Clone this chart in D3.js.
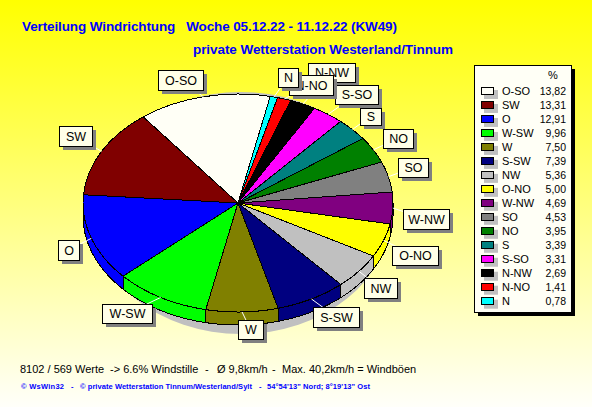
<!DOCTYPE html>
<html><head><meta charset="utf-8">
<script src="https://cdn.jsdelivr.net/npm/d3@7/dist/d3.min.js"></script>
<style>html,body{margin:0;padding:0;background:#fff}svg{display:block}text{font-family:"Liberation Sans",Arial,sans-serif}</style>
</head><body><svg id="c" width="592" height="407"></svg>
<script>
const categories=["O-SO","SW","O","W-SW","W","S-SW","NW","O-NO","W-NW","SO","NO","S","S-SO","N-NW","N-NO","N"];
const shares=[13.82,13.31,12.91,9.96,7.50,7.39,5.36,5.00,4.69,4.53,3.95,3.39,3.31,2.69,1.41,0.78];
const shareLabels=["13,82","13,31","12,91","9,96","7,50","7,39","5,36","5,00","4,69","4,53","3,95","3,39","3,31","2,69","1,41","0,78"];
const colors=["#fffff6","#800000","#0000ff","#00ff00","#808000","#000080","#c0c0c0","#ffff00","#800080","#808080","#008000","#008080","#ff00ff","#000000","#ff0000","#00ffff"];
// label boxes: [x0,y0,x1,y1] per category
const labelBoxes=[[158,70,203,90],[59,126,92,146],[58,240,79,260],[102,304,152,323],[238,320,263,339],[313,307,359,327],[364,278,397,298],[392,246,438,265],[403,209,449,229],[398,158,428,177],[383,129,413,148],[360,108,381,125],[335,85,378,104],[308,63,355,82],[289,75,333,95],[278,68,298,87]];
const labelOrder=[0,1,2,3,4,5,6,7,8,9,10,11,13,12,14,15];
const statusParts=[["8102 / 569 Werte",20],["-> 6.6% Windstille",110],["-",205],["Ø 9,8km/h",217],["-",272],["Max. 40,2km/h = Windböen",282]];
const creditParts=[["© WsWin32",21,43],["-",71,2],["© private Wetterstation Tinnum/Westerland/Sylt",80,172],["-",259,2],["54°54'13\" Nord; 8°19'13\" Ost",267,103]];

const svg=d3.select("#c");
const defs=svg.append("defs");
const g=defs.append("linearGradient").attr("id","bg").attr("x1",0).attr("y1",0).attr("x2",0).attr("y2",1);
g.append("stop").attr("offset",0).attr("stop-color","#ffff00");
g.append("stop").attr("offset",1).attr("stop-color","#fffffa");
svg.append("rect").attr("width",592).attr("height",407).attr("fill","url(#bg)");

svg.append("text").attr("x",22).attr("y",31).attr("fill","#0000ff").attr("font-weight","bold").attr("font-size",13.5).attr("xml:space","preserve").attr("textLength",375).text("Verteilung Windrichtung   Woche 05.12.22 - 11.12.22 (KW49)");
svg.append("text").attr("x",193).attr("y",54).attr("fill","#0000ff").attr("font-weight","bold").attr("font-size",13.5).attr("textLength",260).text("private Wetterstation Westerland/Tinnum");

const cx=238,cy=203,rx=155,ry=109,depth=13,startDeg=12;
const rad=d=>d*Math.PI/180;
svg.append("ellipse").attr("cx",241).attr("cy",213).attr("rx",150).attr("ry",121).attr("fill","#c0c0c0");

const data=categories.map((c,i)=>({c,v:shares[i],color:colors[i],i}));
const pie=d3.pie().value(d=>d.v).sort((a,b)=>a.v-b.v).startAngle(rad(startDeg)).endAngle(rad(startDeg)+2*Math.PI);
const arcs=pie(data);
const arcGen=d3.arc().innerRadius(0).outerRadius(rx);
const px=t=>cx+rx*Math.sin(t), py=t=>cy-ry*Math.cos(t);

const line=d3.line().x(d=>d[0]).y(d=>d[1]);
arcs.filter(a=>a.endAngle>Math.PI/2&&a.startAngle<1.5*Math.PI).forEach(a=>{
  const t0=Math.max(a.startAngle,Math.PI/2),t1=Math.min(a.endAngle,1.5*Math.PI);
  const ts=d3.range(0,41).map(k=>t0+(t1-t0)*k/40);
  const pts=ts.map(t=>[px(t),py(t)]).concat(ts.slice().reverse().map(t=>[px(t),py(t)+depth]));
  svg.append("path").attr("d",line(pts)+"Z").attr("fill",a.data.color).attr("stroke","#000").attr("stroke-width",1).attr("shape-rendering","crispEdges");
});
svg.append("g").selectAll("path").data(arcs).join("path")
  .attr("d",arcGen).attr("transform",`translate(${cx},${cy}) scale(1,${ry/rx})`)
  .attr("fill",d=>d.data.color).attr("stroke","#000").attr("stroke-width",1)
  .attr("shape-rendering","crispEdges")
  .style("vector-effect","non-scaling-stroke");

// leader lines and label boxes
const arcByIdx=new Map(arcs.map(a=>[a.data.i,a]));
labelOrder.forEach(i=>{
  const a=arcByIdx.get(i),t=(a.startAngle+a.endAngle)/2,b=labelBoxes[i];
  svg.append("line").attr("x1",px(t)).attr("y1",py(t)).attr("x2",(b[0]+b[2])/2).attr("y2",(b[1]+b[3])/2).attr("stroke","#fff").attr("stroke-width",1);
});
labelOrder.forEach(i=>{
  const b=labelBoxes[i],w=b[2]-b[0],h=b[3]-b[1];
  svg.append("rect").attr("x",b[0]+4).attr("y",b[1]+4).attr("width",w).attr("height",h).attr("fill","#808080");
  svg.append("rect").attr("x",b[0]+.5).attr("y",b[1]+.5).attr("width",w).attr("height",h).attr("fill","#ffffe8").attr("stroke","#000");
  svg.append("text").attr("x",b[0]+w/2+.5).attr("y",b[1]+h/2+4.5).attr("text-anchor","middle").attr("font-size",12.5).attr("fill","#000").text(categories[i]);
});

// legend
svg.append("rect").attr("x",478).attr("y",69).attr("width",97).attr("height",247).attr("fill","#000");
svg.append("rect").attr("x",474.5).attr("y",65.5).attr("width",97).attr("height",247).attr("fill","#fffff6").attr("stroke","#000");
svg.append("text").attr("x",553).attr("y",79).attr("text-anchor","middle").attr("font-size",11).text("%");
const rowY=d3.scaleLinear().domain([0,15]).range([91,300.7]);
categories.forEach((c,i)=>{
  const y=rowY(i);
  svg.append("rect").attr("x",484).attr("y",y-1).attr("width",14).attr("height",9).attr("fill","#c0c0c0");
  svg.append("rect").attr("x",481.5).attr("y",Math.round(y)-3.5).attr("width",12).attr("height",7).attr("fill",colors[i]).attr("stroke","#000");
  svg.append("text").attr("x",502).attr("y",y+4).attr("font-size",11).text(c);
  svg.append("text").attr("x",566).attr("y",y+4).attr("text-anchor","end").attr("font-size",10.5).text(shareLabels[i]);
});

statusParts.forEach(([t,x])=>svg.append("text").attr("x",x).attr("y",373).attr("font-size",11).text(t));
creditParts.forEach(([t,x,w])=>svg.append("text").attr("x",x).attr("y",389).attr("font-size",7.5).attr("font-weight","bold").attr("fill","#0000ff").attr("textLength",w).text(t));
</script></body></html>
